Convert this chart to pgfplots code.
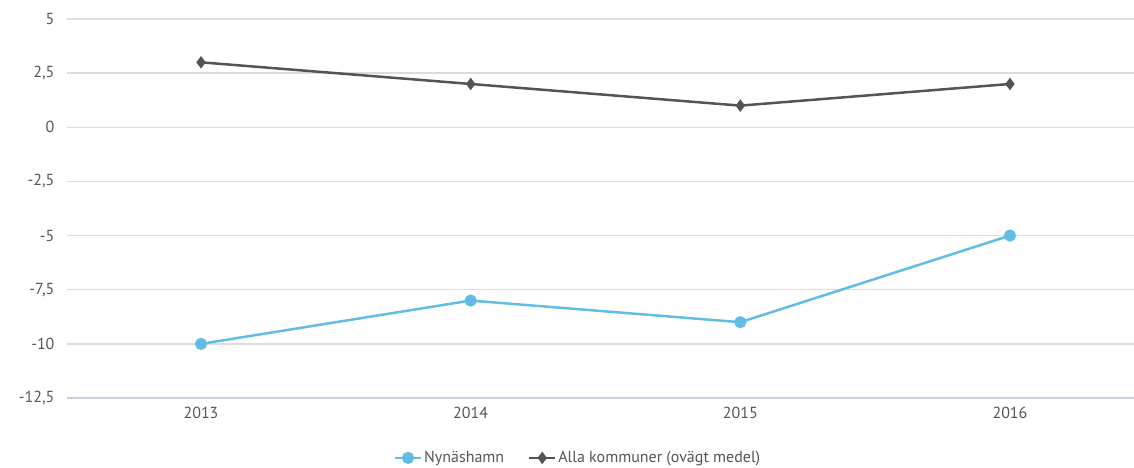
\documentclass[border=0pt]{standalone}
\usepackage{pgfplots}
\pgfplotsset{compat=1.18}
\usepackage{fontspec}
\setmainfont{PT Sans}
\definecolor{cblue}{HTML}{62BDE6}
\definecolor{cgray}{HTML}{545454}
\definecolor{cgrid}{HTML}{DCDCDC}
\definecolor{caxis}{HTML}{C6D2E0}
\definecolor{ctext}{HTML}{555555}
\begin{document}
\begin{tikzpicture}
\begin{axis}[
  at={(0,0)}, anchor=south west,
  scale only axis,
  width=1067pt, height=379pt,
  xmin=-0.497, xmax=3.46,
  ymin=-12.5, ymax=5,
  xtick={0,1,2,3},
  xticklabels={2013,2014,2015,2016},
  ytick={-12.5,-10,-7.5,-5,-2.5,0,2.5,5},
  yticklabels={{-12,5},{-10},{-7,5},{-5},{-2,5},{0},{2,5},{5}},
  tick style={draw=none},
  ymajorgrids, grid style={cgrid, line width=1.3pt},
  axis line style={draw=none},
  axis x line*=bottom,
  ticklabel style={font=\fontsize{16}{18}\selectfont, text=ctext},
  yticklabel style={xshift=-9pt},
  xticklabel style={yshift=-6pt},
  clip=false,
  legend columns=2,
  legend style={draw=none, at={(0.479,-0.158)}, anchor=center,
    font=\fontsize{16}{18}\selectfont, text=ctext,
    /tikz/every even column/.append style={column sep=22pt}},
  legend image code/.code={
    \draw[mark repeat=2,mark phase=2] plot coordinates {(0cm,0cm) (0.45cm,0cm) (0.9cm,0cm)};},
]
\draw[caxis, line width=1.6pt] (axis cs:-0.497,-12.5) -- (axis cs:3.46,-12.5);
\addplot[cblue, line width=2.5pt, mark=*, mark size=4.8pt] coordinates {(0,-10) (1,-8) (2,-9) (3,-5)};
\addlegendentry{Nynäshamn}
\addplot[cgray, line width=2.5pt, mark=diamond*, mark size=4.2pt] coordinates {(0,3) (1,2) (2,1) (3,2)};
\addlegendentry{Alla kommuner (ovägt medel)}
\end{axis}
\pgfresetboundingbox
\path (-67pt,-69pt) rectangle (1067pt,398pt);
\end{tikzpicture}
\end{document}
